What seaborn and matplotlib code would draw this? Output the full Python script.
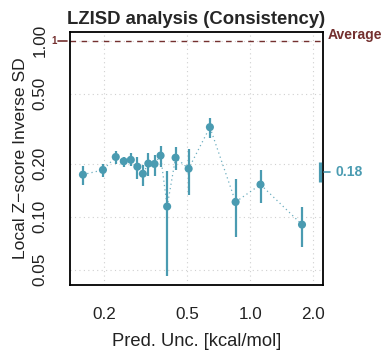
import numpy as np
import pandas as pd
import matplotlib
matplotlib.use("Agg")
import matplotlib.pyplot as plt
import seaborn as sns
from matplotlib.ticker import FixedLocator, NullLocator, FixedFormatter

# ---- data ----
pred_unc = [0.158, 0.197, 0.227, 0.248, 0.268, 0.288, 0.306, 0.325, 0.348,
            0.372, 0.400, 0.439, 0.507, 0.641, 0.851, 1.12, 1.77]
lzisd = [0.173, 0.184, 0.218, 0.206, 0.210, 0.192, 0.175, 0.200, 0.199,
         0.222, 0.114, 0.216, 0.187, 0.322, 0.121, 0.152, 0.090]
err_lo = [0.151, 0.168, 0.200, 0.190, 0.194, 0.164, 0.149, 0.169, 0.169,
          0.190, 0.046, 0.184, 0.132, 0.281, 0.077, 0.119, 0.067]
err_hi = [0.194, 0.199, 0.236, 0.219, 0.229, 0.218, 0.197, 0.231, 0.223,
          0.252, 0.181, 0.248, 0.242, 0.362, 0.164, 0.185, 0.113]
mean_val = 0.18
mean_lo = 0.158
mean_hi = 0.205
ref_val = 1.0

xticks = [0.2, 0.5, 1.0, 2.0]
xtick_labels = ["0.2", "0.5", "1.0", "2.0"]
yticks = [0.05, 0.10, 0.20, 0.50, 1.00]
ytick_labels = ["0.05", "0.10", "0.20", "0.50", "1.00"]

df = pd.DataFrame({"x": pred_unc, "y": lzisd, "lo": err_lo, "hi": err_hi})

BLUE = "#4a9bb1"
RED = "#74302f"

sns.set_theme(style="white")
plt.rcParams["font.family"] = ["Liberation Sans", "DejaVu Sans"]

fig = plt.figure(figsize=(3.82, 3.50), dpi=100)
ax = fig.add_axes([0.182, 0.186, 0.663, 0.723])
ax.set_xscale("log")
ax.set_yscale("log")

# grid
for v in xticks:
    ax.axvline(v, color="#d0d0d0", lw=0.8, ls=(0, (1, 3)), zorder=0)
for v in yticks:
    ax.axhline(v, color="#d0d0d0", lw=0.8, ls=(0, (1, 3)), zorder=0)

# reference line
ax.axhline(ref_val, color=RED, lw=1.0, ls=(0, (4, 4)), zorder=1)

# connecting dotted line
sns.lineplot(data=df, x="x", y="y", ax=ax, color=BLUE, lw=0.9,
             ls=(0, (1, 2.5)), sort=False, zorder=2, alpha=0.8)
# error bars
ax.vlines(df["x"], df["lo"], df["hi"], color=BLUE, lw=1.6, zorder=3)
# points
sns.scatterplot(data=df, x="x", y="y", ax=ax, color=BLUE, s=34,
                edgecolor="none", zorder=4)

ax.set_xlim(0.1363, 2.226)
ax.set_ylim(0.0409, 1.12)

# mean bar at right edge
yt = ax.get_yaxis_transform()
ax.vlines([0.99], [mean_lo], [mean_hi], color=BLUE, lw=2.3,
          zorder=5, clip_on=False, transform=yt)
ax.plot([1.006, 1.03], [mean_val, mean_val], color=BLUE, lw=1.2,
        clip_on=False, zorder=5, transform=yt)
ax.text(1.05, mean_val, f"{mean_val:.2f}", color=BLUE, fontsize=10,
        fontweight="bold", va="center", ha="left", transform=yt)
ax.text(1.02, 1.075, "Average", color=RED, fontsize=10,
        fontweight="bold", va="center", ha="left", transform=yt)

# ticks
ax.xaxis.set_major_locator(FixedLocator(xticks))
ax.xaxis.set_major_formatter(FixedFormatter(xtick_labels))
ax.xaxis.set_minor_locator(NullLocator())
ax.yaxis.set_major_locator(FixedLocator(yticks))
ax.yaxis.set_major_formatter(FixedFormatter(ytick_labels))
ax.yaxis.set_minor_locator(NullLocator())
ax.tick_params(axis="both", which="major", direction="out", length=8,
               width=0.9, color="#333333", labelsize=12.3, labelcolor="#222222")
ax.tick_params(axis="x", pad=8)
ax.tick_params(axis="y", pad=8)
for lab in ax.get_yticklabels():
    lab.set_rotation(90)
    lab.set_va("center")

# small red "1" marker on left
ax.plot([-0.047, -0.008], [ref_val, ref_val], color=RED, lw=1.2,
        clip_on=False, zorder=6, transform=yt)
ax.text(-0.051, ref_val, "1", color=RED, fontsize=7,
        fontweight="bold", ha="right", va="center", transform=yt)

for s in ax.spines.values():
    s.set_visible(True)
    s.set_color("black")
    s.set_linewidth(1.3)

ax.set_xlabel("Pred. Unc. [kcal/mol]", fontsize=13.2, color="#222222", labelpad=8)
ax.set_ylabel("Local Z\u2212score Inverse SD", fontsize=12.6, color="#222222",
              labelpad=3)
ax.set_title("LZISD analysis (Consistency)", fontsize=13.3, fontweight="bold",
             pad=6)

fig.savefig("out.png", dpi=100)
